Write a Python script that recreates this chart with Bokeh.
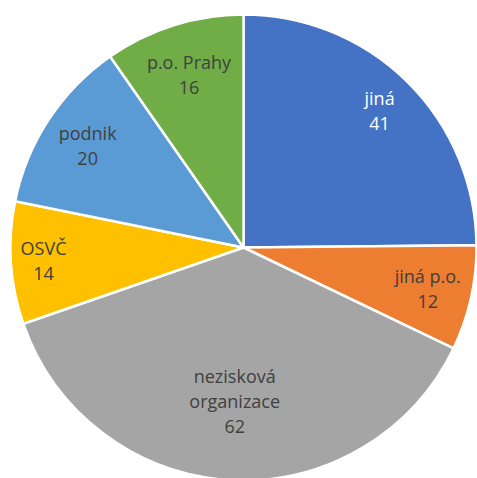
import math
from bokeh.plotting import figure
from bokeh.models import Range1d, ColumnDataSource
from bokeh.core.properties import value
from bokeh.embed import file_html
from bokeh.resources import INLINE

categories = ["jiná", "jiná p.o.", "nezisková\norganizace", "OSVČ", "podnik", "p.o. Prahy"]
values = [41, 12, 62, 14, 20, 16]
colors = ["#4472C4", "#ED7D31", "#A5A5A5", "#FFC000", "#5B9BD5", "#70AD47"]
label_colors = ["#FFFFFF", "#404040", "#404040", "#404040", "#404040", "#404040"]
label_r = [0.83, 0.81, 0.66, 0.86, 0.80, 0.78]

W, H = 477, 478
cx, cy = 243, 231
R = 233

total = sum(values)
starts, ends, lx, ly, texts = [], [], [], [], []
acc = 0
for i, v in enumerate(values):
    a0 = math.pi / 2 - 2 * math.pi * acc / total
    a1 = math.pi / 2 - 2 * math.pi * (acc + v) / total
    starts.append(a0)
    ends.append(a1)
    mid = (a0 + a1) / 2
    lx.append(cx + label_r[i] * R * math.cos(mid))
    ly.append(cy + label_r[i] * R * math.sin(mid))
    texts.append(f"{categories[i]}\n{v}")
    acc += v

src = ColumnDataSource(dict(x=[cx] * len(values), y=[cy] * len(values), start=starts, end=ends, color=colors))
lsrc = ColumnDataSource(dict(x=lx, y=ly, text=texts, color=label_colors))

p = figure(width=W, height=H, output_backend="svg", toolbar_location=None,
           x_range=Range1d(0, W), y_range=Range1d(0, H), min_border=0)
p.axis.visible = False
p.grid.visible = False
p.outline_line_color = None
p.background_fill_color = "white"

p.wedge(x="x", y="y", radius=R, radius_units="screen", start_angle="start", end_angle="end",
        direction="clock", fill_color="color", line_color="white", line_width=2.5, source=src)
p.text(x="x", y="y", text="text", source=lsrc, text_color="color", text_align="center",
       text_baseline="middle", text_font=value("Open Sans"), text_font_size="18px",
       text_line_height=1.05)

open("out.html", "w").write(file_html(p, INLINE))
